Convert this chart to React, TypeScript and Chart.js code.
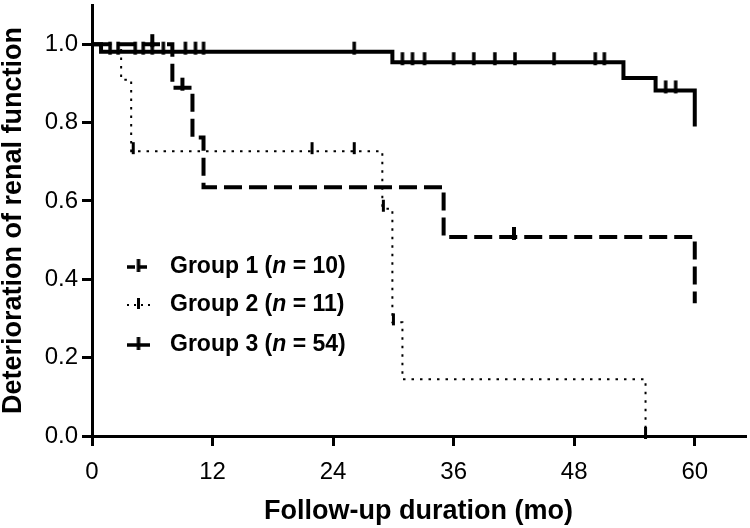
import React, { useEffect, useRef } from 'react';
import { Chart, registerables } from 'chart.js';

Chart.register(...registerables);

const FONT = "'Liberation Sans', Arial, Helvetica, sans-serif";

// ---- text ----
const xTitle = 'Follow-up duration (mo)';
const yTitle = 'Deterioration of renal function';
const groupNames = ['Group 1', 'Group 2', 'Group 3'];
const groupNs = ['10', '11', '54'];

// ---- axes ----
const xMin = 0;
const xMax = 65;
const xStep = 12;
const yMin = 0;
const yMax = 1.1;
const yStep = 0.2;

// ---- Group 1 (dashed) ----
const group1Times = [0, 8.0, 10.0, 11.1, 35.0, 60.0];
const group1Surv = [1.0, 0.889, 0.762, 0.635, 0.508, 0.339];
const group1CensorTimes = [6.0, 9.0, 42.0];
const group1CensorSurv = [1.0, 0.889, 0.508];

// ---- Group 2 (dotted) ----
const group2Times = [0, 2.9, 3.9, 28.9, 29.9, 30.9, 55.1];
const group2Surv = [1.0, 0.909, 0.727, 0.58, 0.29, 0.145, 0.0];
const group2CensorTimes = [4.1, 21.9, 26.1, 29.0, 30.0, 55.1];
const group2CensorSurv = [0.727, 0.727, 0.727, 0.58, 0.29, 0.0];

// ---- Group 3 (solid) ----
const group3Times = [0, 0.9, 29.9, 52.9, 56.1, 60.0];
const group3Surv = [1.0, 0.981, 0.954, 0.914, 0.882, 0.79];
const group3CensorTimes = [1.8, 2.6, 4.3, 5.1, 6.0, 7.1, 9.3, 10.3, 11.1, 26.1, 30.9, 31.9, 33.1, 36.0, 38.0, 40.1, 42.1, 46.0, 50.1, 51.0, 57.1, 58.1];
const group3CensorSurv = [0.981, 0.981, 0.981, 0.981, 0.981, 0.981, 0.981, 0.981, 0.981, 0.981, 0.954, 0.954, 0.954, 0.954, 0.954, 0.954, 0.954, 0.954, 0.954, 0.954, 0.882, 0.882];

function pts(xs: number[], ys: number[]) {
  return xs.map((x, i) => ({ x, y: ys[i] }));
}

function makeTick(w: number, up: number, down: number): HTMLCanvasElement {
  const c = document.createElement('canvas');
  const h = 2 * Math.max(up, down) + 2;
  c.width = Math.ceil(w) + 2;
  c.height = h;
  const g = c.getContext('2d')!;
  g.fillStyle = '#000';
  const cy = h / 2;
  g.fillRect((c.width - w) / 2, cy - up, w, up + down);
  return c;
}

export default function App() {
  const ref = useRef<HTMLCanvasElement | null>(null);

  useEffect(() => {
    if (!ref.current) return;
    const tick1 = makeTick(4, 10, 3);
    const tick2 = makeTick(3, 9, 3);
    const tick3 = makeTick(3.5, 10, 3);
    const legTick1 = makeTick(3.5, 8, 5);
    const legTick2 = makeTick(3, 7, 4);
    const legTick3 = makeTick(3.5, 8, 5);

    const lineStyles = [
      { width: 4, dash: [18, 7] },
      { width: 2, dash: [2.5, 6] },
      { width: 4, dash: [] as number[] },
    ];

    const legendPlugin = {
      id: 'kmLegend',
      afterDraw(chart: any) {
        const { ctx, chartArea } = chart;
        const x0 = chartArea.left + 35;
        const rows = [chartArea.top + 262, chartArea.top + 300, chartArea.top + 340];
        const ticks = [legTick1, legTick2, legTick3];
        const samples = [
          { width: 3.5, dash: [8, 4] },
          { width: 2, dash: [2, 5] },
          { width: 3.5, dash: [] as number[] },
        ];
        ctx.save();
        rows.forEach((y, i) => {
          ctx.beginPath();
          ctx.strokeStyle = '#000';
          ctx.lineWidth = samples[i].width;
          ctx.setLineDash(samples[i].dash);
          ctx.moveTo(x0, y);
          ctx.lineTo(x0 + 23, y);
          ctx.stroke();
          ctx.setLineDash([]);
          const t = ticks[i];
          ctx.drawImage(t, x0 + 11.5 - t.width / 2, y - t.height / 2);
          let tx = x0 + 43;
          ctx.fillStyle = '#000';
          ctx.textBaseline = 'middle';
          ctx.textAlign = 'left';
          const parts = [
            { s: groupNames[i] + ' (', f: `bold 23px ${FONT}` },
            { s: 'n', f: `italic bold 23px ${FONT}` },
            { s: ' = ' + groupNs[i] + ')', f: `bold 23px ${FONT}` },
          ];
          parts.forEach((p) => {
            ctx.font = p.f;
            ctx.fillText(p.s, tx, y);
            tx += ctx.measureText(p.s).width;
          });
        });
        ctx.restore();
      },
    };

    const stepDs = (data: any[], st: any) => ({
      type: 'line' as const,
      data,
      borderColor: '#000',
      borderWidth: st.width,
      borderDash: st.dash,
      borderCapStyle: 'butt' as const,
      stepped: 'before' as const,
      pointRadius: 0,
      fill: false,
      clip: false as any,
    });
    const censorDs = (data: any[], img: HTMLCanvasElement) => ({
      type: 'line' as const,
      data,
      showLine: false,
      pointStyle: img,
      pointRadius: 3,
      borderColor: '#000',
      backgroundColor: '#000',
      clip: false as any,
    });

    const chart = new Chart(ref.current, {
      type: 'line',
      data: {
        datasets: [
          censorDs(pts(group1CensorTimes, group1CensorSurv), tick1),
          censorDs(pts(group2CensorTimes, group2CensorSurv), tick2),
          censorDs(pts(group3CensorTimes, group3CensorSurv), tick3),
          stepDs(pts(group1Times, group1Surv), lineStyles[0]),
          stepDs(pts(group2Times, group2Surv), lineStyles[1]),
          stepDs(pts(group3Times, group3Surv), lineStyles[2]),
        ] as any,
      },
      options: {
        responsive: false,
        animation: false,
        devicePixelRatio: 1,
        layout: { padding: { left: 0, top: 3, right: 3, bottom: 0 } },
        plugins: { legend: { display: false }, tooltip: { enabled: false } },
        scales: {
          x: {
            type: 'linear',
            min: xMin,
            max: xMax,
            afterFit: (s: any) => { s.height = 92; s.paddingLeft = 0; s.paddingRight = 0; },
            border: { display: true, color: '#000', width: 3 },
            grid: { drawOnChartArea: false, drawTicks: true, tickLength: 10, color: '#000', lineWidth: 3 },
            ticks: {
              stepSize: xStep,
              includeBounds: false,
              color: '#000',
              padding: 12,
              maxRotation: 0,
              font: { family: FONT, size: 24 },
              callback: (v: any) => String(v),
            },
            title: {
              display: true,
              text: xTitle,
              color: '#000',
              font: { family: FONT, size: 27, weight: 'bold', lineHeight: 1 },
              padding: { top: 0, bottom: 3 },
            },
          },
          y: {
            type: 'linear',
            min: yMin,
            max: yMax,
            afterFit: (s: any) => { s.width = 92; s.paddingTop = 0; s.paddingBottom = 0; },
            border: { display: true, color: '#000', width: 3 },
            grid: { drawOnChartArea: false, drawTicks: true, tickLength: 10, color: '#000', lineWidth: 3 },
            ticks: {
              stepSize: yStep,
              includeBounds: false,
              color: '#000',
              padding: 4,
              font: { family: FONT, size: 24 },
              callback: (v: any) => Number(v).toFixed(1),
            },
            title: {
              display: true,
              text: yTitle,
              color: '#000',
              font: { family: FONT, size: 27, weight: 'bold', lineHeight: 1 },
              padding: { top: 0, bottom: 0 },
            },
          },
        },
      } as any,
      plugins: [legendPlugin],
    });
    return () => chart.destroy();
  }, []);

  return (
    <canvas
      ref={ref}
      width={750}
      height={528}
      style={{ position: 'absolute', left: 0, top: 0, display: 'block', background: '#fff' }}
    />
  );
}
